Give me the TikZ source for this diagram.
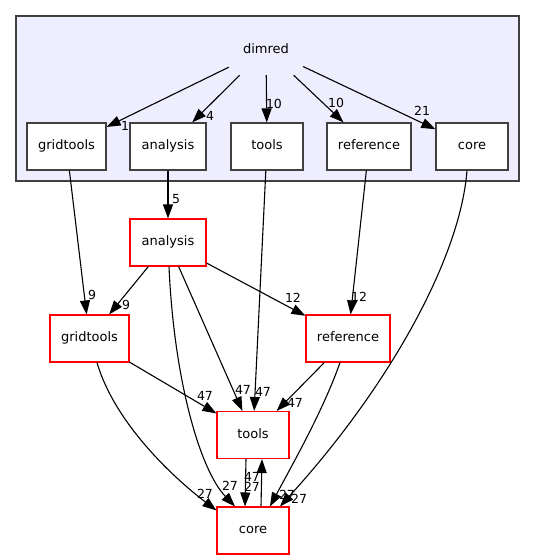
\documentclass[tikz,border=0pt]{standalone}
\usepackage{fontspec}
\setmainfont{DejaVu Sans}
\usepackage{tikz}
\usetikzlibrary{arrows.meta}

\definecolor{clusterbg}{HTML}{EEEEFF}
\definecolor{boxline}{HTML}{404040}

\tikzset{
	folder/.style={draw=boxline, fill=white, line width=1.2pt, minimum width=#1, minimum height=47pt, inner sep=0pt, text height=9pt, text depth=3pt, font=\fontsize{13}{15}\selectfont},
	redfolder/.style={folder=#1, draw=red, line width=1.1pt},
	dep/.style={line width=1.1pt, -{Triangle[length=14pt,width=10pt]}},
	cnt/.style={inner sep=0pt, font=\fontsize{12.5}{14}\selectfont},
}

\begin{document}
\begin{tikzpicture}[x=1pt, y=-1pt]
\useasboundingbox (0,0) rectangle (535,560);
\draw[boxline, fill=clusterbg, line width=1.3pt] (16,16) rectangle (519,181);

	\node[minimum width=74pt, minimum height=52pt, inner sep=0pt, font=\fontsize{13}{15}\selectfont] (dimred) at (266,49) {dimred};

	\node[folder=79pt] (dgridtools) at (66.5,146.5) {gridtools};
	\node[folder=76pt] (danalysis) at (168,146.5) {analysis};
	\node[folder=72pt] (dtools) at (267,146.5) {tools};
	\node[folder=84pt] (dreference) at (369,146.5) {reference};
	\node[folder=72pt] (dcore) at (472,146.5) {core};

	\node[redfolder=76pt] (analysis) at (168,242.5) {analysis};
	\node[redfolder=79pt] (gridtools) at (89.5,338.5) {gridtools};
	\node[redfolder=84pt] (reference) at (348,338.5) {reference};
	\node[redfolder=72pt] (tools) at (253,435) {tools};
	\node[redfolder=72pt] (core) at (253,530.5) {core};

	\draw[dep] (dimred) -- (dgridtools);
	\draw[dep] (dimred) -- (danalysis);
	\draw[dep] (dimred) -- (dtools);
	\draw[dep] (dimred) -- (dreference);
	\draw[dep] (dimred) -- (dcore);

	\draw[dep] (dgridtools) -- (gridtools);
	\draw[dep] (danalysis) -- (analysis);
	\draw[dep] (dtools) -- (tools);
	\draw[dep] (dreference) -- (reference);
	\draw[dep] ([xshift=-5pt]dcore.south) .. controls (460,260) and (387,389) .. ([xshift=27pt]core.north);

	\draw[dep] (analysis) -- (gridtools);
	\draw[dep] (analysis) -- (reference);
	\draw[dep] (analysis) -- (tools);
	\draw[dep] ([xshift=1pt]analysis.south) .. controls (174,380) and (200,470) .. ([xshift=-18pt]core.north);
	\draw[dep] (gridtools) -- (tools);
	\draw[dep] ([xshift=7.5pt]gridtools.south) .. controls (114,421) and (170,475) .. ([yshift=-4pt]core.north west);
	\draw[dep] (reference) -- (tools);
	\draw[dep] ([xshift=-8pt]reference.south) .. controls (323.5,410) and (291,467) .. ([xshift=17pt]core.north);
	\draw[dep] ([xshift=-7pt]tools.south) -- ([xshift=-8pt]core.north);
	\draw[dep] ([xshift=8pt]core.north) -- ([xshift=9pt]tools.south);

	\node[cnt] (c1) at (125,126) {1};
	\node[cnt] (c2) at (210,116) {4};
	\node[cnt] (c3) at (274,104) {10};
	\node[cnt] (c4) at (336,103) {10};
	\node[cnt] (c5) at (422,111) {21};
	\node[cnt] (c6) at (176,199) {5};
	\node[cnt] (c7) at (92,295) {9};
	\node[cnt] (c8) at (126,305) {9};
	\node[cnt] (c9) at (293,298) {12};
	\node[cnt] (c10) at (359,297) {12};
	\node[cnt] (c11) at (205,396) {47};
	\node[cnt] (c12) at (243,390) {47};
	\node[cnt] (c13) at (263,392) {47};
	\node[cnt] (c14) at (295,403) {47};
	\node[cnt] (c15) at (252,477) {47};
	\node[cnt] (c16) at (205,494) {27};
	\node[cnt] (c17) at (230,486) {27};
	\node[cnt] (c18) at (252,487) {27};
	\node[cnt] (c19) at (287,495) {27};
	\node[cnt] (c20) at (299,499) {27};
\end{tikzpicture}
\end{document}
